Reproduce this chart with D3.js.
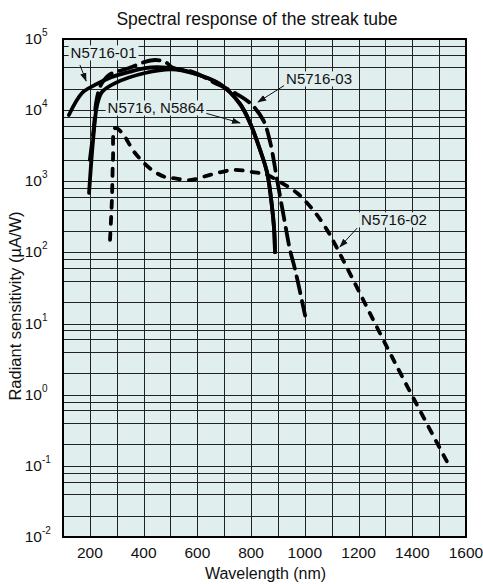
<html>
<head>
<script src="https://d3js.org/d3.v7.min.js"></script>
<style>
  body { margin: 0; background: #fff; }
  text { font-family: "Liberation Sans", Arial, Helvetica, sans-serif; fill: #111; }
  .grid line { stroke: #222; stroke-width: 1px; shape-rendering: crispEdges; }
  .curve { fill: none; stroke: #000; stroke-width: 3.8px; stroke-linecap: round; stroke-linejoin: round; }
  .lbl rect { fill: #e1eeee; }
  .arrow { stroke: #111; stroke-width: 1px; fill: none; }
</style>
</head>
<body>
<svg id="chart"></svg>
<script>
// axis ticks
var wavelengthTicks = [200, 400, 600, 800, 1000, 1200, 1400, 1600];
var gridWavelengths = d3.range(200, 1600, 100);
var decadeExps = [-2, -1, 0, 1, 2, 3, 4, 5];
var minorMults = [2, 4, 6, 8];

// curves: [wavelength nm, radiant sensitivity uA/W]
var n5716_01 = [[122, 8550], [171, 17400], [219, 22600], [282, 29200], [346, 34400], [405, 39100],
  [469, 40000], [530, 37800], [600, 32000], [684, 23300], [759, 12200], [797, 6500], [833, 2800],
  [860, 1306], [878, 436], [886, 207], [889, 101]];
var n5716 = [[197, 685], [212, 3800], [227, 11800], [245, 18000], [294, 24000], [405, 33300],
  [506, 37500], [584, 33000], [684, 23300], [759, 12200], [797, 6500], [833, 2800], [860, 1306],
  [878, 436], [886, 207], [889, 101]];
var n5716_03 = [[200, 2000], [215, 5800], [223, 12600], [234, 19200], [245, 24000], [271, 31200],
  [346, 39100], [405, 47600], [443, 50700], [480, 47600], [510, 39100], [584, 34400], [658, 24900],
  [733, 18000], [796, 12600], [845, 7270], [871, 3560], [897, 1040], [926, 259], [945, 108],
  [964, 57], [1001, 13]];
var n5716_02 = [[275, 150], [282, 546], [286, 2000], [294, 5600], [320, 4780], [368, 2500],
  [431, 1440], [480, 1150], [510, 1110], [573, 1040], [647, 1230], [733, 1440], [807, 1350],
  [860, 1225], [908, 977], [971, 684], [1031, 394], [1083, 207], [1131, 95], [1336, 2.8],
  [1530, 0.113]];

// callouts: text anchor and arrow from/to, in data units
var callouts = [
  { text: "N5716-01", at: [251, 63500], from: [163, 43200], to: [186, 25700] },
  { text: "N5716, N5864", at: [446, 10700], from: [629, 9100], to: [759, 6620] },
  { text: "N5716-03", at: [1053, 27400], from: [926, 22500], to: [826, 13000] },
  { text: "N5716-02", at: [1332, 286], from: [1195, 220], to: [1131, 120] }
];

var W = 483, H = 584;
var m = { top: 39, right: 17, bottom: 47, left: 63 };
var iw = W - m.left - m.right, ih = H - m.top - m.bottom;

var svg = d3.select("#chart").attr("width", W).attr("height", H);

svg.append("text")
  .attr("x", 257).attr("y", 25)
  .attr("text-anchor", "middle")
  .style("font-size", "17.5px")
  .text("Spectral response of the streak tube");

var x = d3.scaleLinear().domain([100, 1600]).range([0, iw]);
var y = d3.scaleLog().domain([1e-2, 1e5]).range([ih, 0]);

var g = svg.append("g").attr("transform", "translate(" + m.left + "," + m.top + ")");

g.append("rect").attr("width", iw).attr("height", ih).attr("fill", "#e1eeee");

// grid
var grid = g.append("g").attr("class", "grid");
grid.selectAll(".vx").data(gridWavelengths).enter().append("line")
  .attr("x1", function(d) { return Math.round(x(d)) + 0.5; })
  .attr("x2", function(d) { return Math.round(x(d)) + 0.5; })
  .attr("y1", 0).attr("y2", ih);

var hLines = [];
decadeExps.forEach(function(e) {
  hLines.push(Math.pow(10, e));
  if (e < 5) minorMults.forEach(function(k) { hLines.push(k * Math.pow(10, e)); });
});
grid.selectAll(".hy").data(hLines).enter().append("line")
  .attr("x1", 0).attr("x2", iw)
  .attr("y1", function(d) { return Math.round(y(d)) + 0.5; })
  .attr("y2", function(d) { return Math.round(y(d)) + 0.5; });

// curves
var line = d3.line()
  .x(function(d) { return x(d[0]); })
  .y(function(d) { return y(d[1]); })
  .curve(d3.curveCatmullRom.alpha(0.5));

g.append("path").datum(n5716_01).attr("class", "curve").attr("d", line);
g.append("path").datum(n5716).attr("class", "curve").attr("d", line);
g.append("path").datum(n5716_03).attr("class", "curve")
  .attr("stroke-dasharray", "17,8").attr("d", line);
g.append("path").datum(n5716_02).attr("class", "curve")
  .attr("stroke-dasharray", "7,9").attr("d", line);

// callouts
svg.append("defs").append("marker")
  .attr("id", "head").attr("viewBox", "0 0 10 10")
  .attr("refX", 9).attr("refY", 5)
  .attr("markerWidth", 9).attr("markerHeight", 9)
  .attr("markerUnits", "userSpaceOnUse")
  .attr("orient", "auto")
  .append("path").attr("d", "M0,1.5L10,5L0,8.5Z").attr("fill", "#111");

var co = g.selectAll(".lbl").data(callouts).enter().append("g").attr("class", "lbl");
co.append("line").attr("class", "arrow")
  .attr("x1", function(d) { return x(d.from[0]); })
  .attr("y1", function(d) { return y(d.from[1]); })
  .attr("x2", function(d) { return x(d.to[0]); })
  .attr("y2", function(d) { return y(d.to[1]); })
  .attr("marker-end", "url(#head)");
var ct = co.append("text")
  .attr("x", function(d) { return x(d.at[0]); })
  .attr("y", function(d) { return y(d.at[1]); })
  .attr("dy", "0.36em")
  .attr("text-anchor", "middle")
  .style("font-size", "15px")
  .text(function(d) { return d.text; });
ct.each(function() {
  var b = this.getBBox();
  d3.select(this.parentNode).insert("rect", "text")
    .attr("x", b.x - 2).attr("y", b.y + 1)
    .attr("width", b.width + 4).attr("height", b.height - 2);
});

// frame
g.append("rect").attr("width", iw).attr("height", ih)
  .attr("fill", "none").attr("stroke", "#000").attr("stroke-width", 2);

// x tick labels
g.selectAll(".xt").data(wavelengthTicks).enter().append("text")
  .attr("x", function(d) { return x(d); })
  .attr("y", ih + 21)
  .attr("text-anchor", "middle")
  .style("font-size", "15.5px")
  .text(function(d) { return d; });

// y tick labels: 10 with superscript
g.selectAll(".yt").data(decadeExps).enter().append("text")
  .attr("x", -21)
  .attr("y", function(d) { return y(Math.pow(10, d)) + 5; })
  .attr("text-anchor", "end")
  .style("font-size", "15.5px")
  .text("10");
g.selectAll(".ye").data(decadeExps).enter().append("text")
  .attr("x", -21)
  .attr("y", function(d) { return y(Math.pow(10, d)) - 3; })
  .style("font-size", "10px")
  .text(function(d) { return d; });

svg.append("text")
  .attr("x", (m.left + W - m.right) / 2 + 1).attr("y", H - 5)
  .attr("text-anchor", "middle")
  .style("font-size", "16px")
  .text("Wavelength (nm)");

svg.append("text")
  .attr("transform", "translate(21,306) rotate(-90)")
  .attr("text-anchor", "middle")
  .style("font-size", "16.5px")
  .text("Radiant sensitivity (µA/W)");
</script>
</body>
</html>
